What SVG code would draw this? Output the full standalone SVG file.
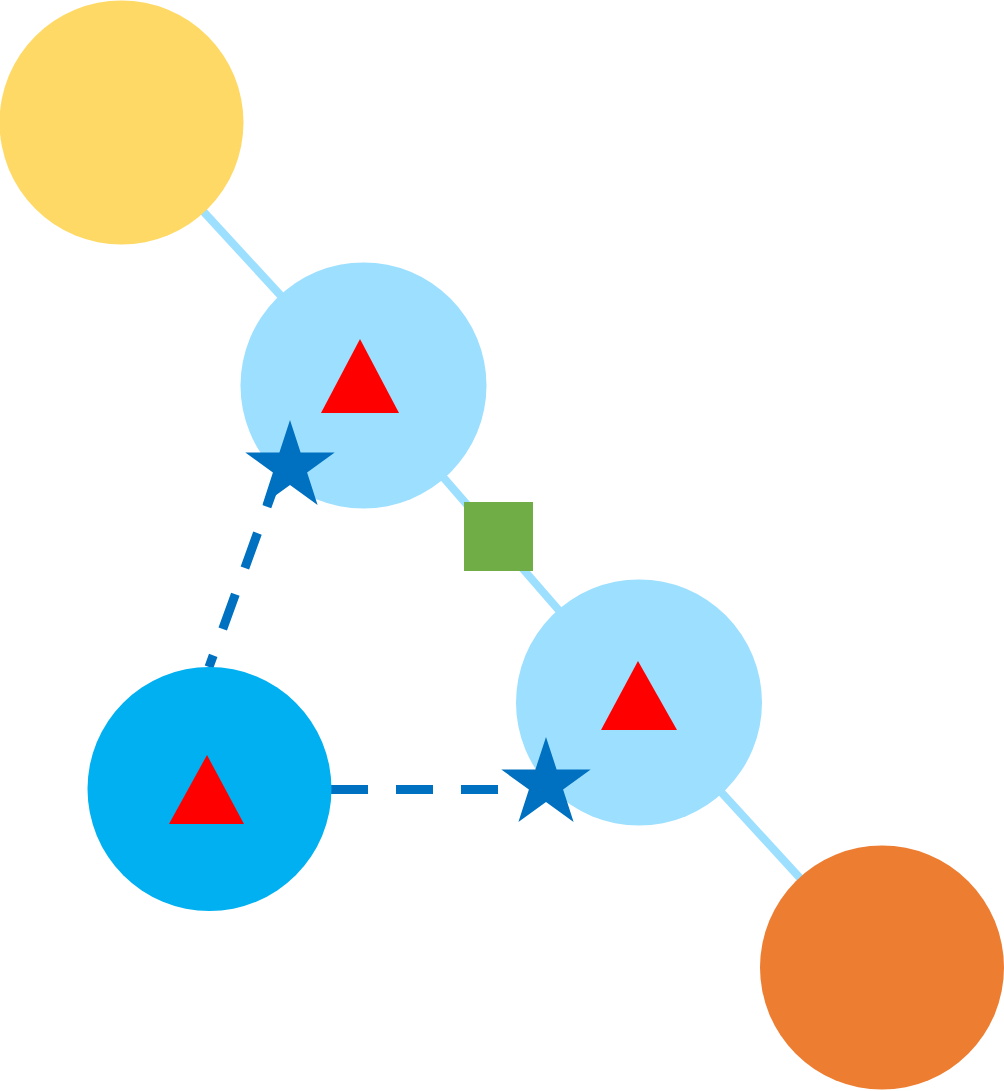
<svg xmlns="http://www.w3.org/2000/svg" xmlns:xlink="http://www.w3.org/1999/xlink" width="1004" height="1091" viewBox="0 0 1004 1091">
  <style>
    .link { stroke: #9DDFFF; stroke-width: 8; fill: none; }
    .dash { stroke: #0070C0; stroke-width: 9; stroke-dasharray: 37 28; fill: none; }
    .tri { fill: #FF0000; }
    .lb { fill: #9DDFFF; }
    .star { fill: #0070C0; }
  </style>
  <defs>
    <path id="star" d="M0,-47 L10.6,-14.6 L44.7,-14.5 L17.1,5.6 L27.6,38 L0,18 L-27.6,38 L-17.1,5.6 L-44.7,-14.5 L-10.6,-14.6 Z"/>
  </defs>
  <rect width="1004" height="1091" fill="#FFFFFF"/>
  <g id="connectors">
    <line class="link" x1="121.5" y1="122.5" x2="363.5" y2="385.5"/>
    <line class="link" x1="363.5" y1="385.5" x2="639" y2="702.5"/>
    <line class="link" x1="639" y1="702.5" x2="882" y2="967.5"/>
    <line class="dash" x1="279.6" y1="472" x2="209" y2="667"/>
    <line class="dash" x1="331" y1="789.5" x2="500" y2="789.5"/>
  </g>
  <g id="node-yellow">
    <circle cx="121.5" cy="122.5" r="122" fill="#FFD966"/>
  </g>
  <g id="node-lightblue-1">
    <circle class="lb" cx="363.5" cy="385.5" r="123"/>
    <polygon class="tri" points="360,339 321,413 399,413"/>
  </g>
  <g id="node-lightblue-2">
    <circle class="lb" cx="639" cy="702.5" r="123"/>
    <polygon class="tri" points="638,661 601,730 677,730"/>
  </g>
  <g id="node-cyan">
    <circle cx="209.5" cy="789" r="122" fill="#00B0F0"/>
    <polygon class="tri" points="207,755 169,824 244,824"/>
  </g>
  <g id="node-orange">
    <circle cx="882" cy="967.5" r="122" fill="#ED7D31"/>
  </g>
  <g id="node-square">
    <rect x="464" y="502" width="69" height="69" fill="#70AD47"/>
  </g>
  <g id="node-star-1">
    <use xlink:href="#star" href="#star" class="star" transform="translate(290,467)"/>
  </g>
  <g id="node-star-2">
    <use xlink:href="#star" href="#star" class="star" transform="translate(546,784)"/>
  </g>
</svg>
